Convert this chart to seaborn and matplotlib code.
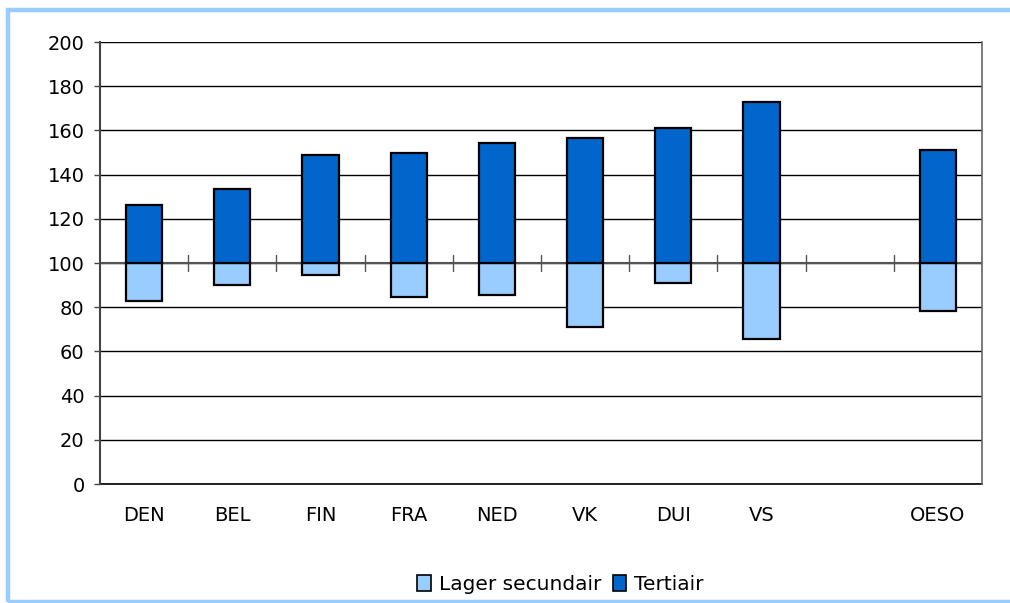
import numpy as np
import pandas as pd
import seaborn as sns
import matplotlib.pyplot as plt
from matplotlib.patches import Patch, Rectangle

# Index values (100 = upper secondary)
countries = ["DEN", "BEL", "FIN", "FRA", "NED", "VK", "DUI", "VS", "OESO"]
lager_secundair = [82.7, 89.9, 94.4, 84.5, 85.4, 70.9, 90.8, 65.6, 78.1]
tertiair = [126.1, 133.3, 148.7, 149.6, 154.2, 156.7, 161.2, 173.0, 151.3]
# empty slot between VS and OESO
order = ["DEN", "BEL", "FIN", "FRA", "NED", "VK", "DUI", "VS", " ", "OESO"]
y_ticks = list(range(0, 201, 20))
base = 100

light_blue = "#99ccff"
dark_blue = "#0066cc"

sns.set_style("white")
plt.rcParams['font.family'] = ['DejaVu Sans']
plt.rcParams['text.color'] = 'black'
plt.rcParams['xtick.color'] = 'black'
plt.rcParams['ytick.color'] = 'black'

df = pd.DataFrame({
    "land": countries * 2,
    "reeks": ["Lager secundair"] * len(countries) + ["Tertiair"] * len(countries),
    "delta": [v - base for v in lager_secundair] + [v - base for v in tertiair],
})

fig = plt.figure(figsize=(10.10, 6.03), dpi=100)
ax = fig.add_axes([0.099, 0.1973, 0.8733, 0.733])

for reeks, kleur in [("Lager secundair", light_blue), ("Tertiair", dark_blue)]:
    sns.barplot(data=df[df["reeks"] == reeks], x="land", y="delta", order=order,
                color=kleur, width=0.41, bottom=base, edgecolor="black",
                linewidth=1.6, saturation=1, ax=ax, zorder=3)

ax.set_ylim(0, 200)
ax.set_xlim(-0.5, len(order) - 0.5)
ax.set_yticks(y_ticks)
ax.yaxis.grid(True, color="black", linewidth=1)
ax.set_axisbelow(True)
ax.set_xlabel("")
ax.set_ylabel("")

# bottom gridline at 0 drawn fully
ax.axhline(0, color="black", linewidth=1.2, clip_on=False, zorder=2)

# category axis crosses at 100
ax.axhline(base, color="#555555", linewidth=1.5, zorder=2)
for xb in np.arange(len(order)) + 0.5:
    ax.plot([xb, xb], [base - 3.5, base + 3.5], color="#555555", linewidth=1, zorder=2)

ax.tick_params(axis="x", length=0, pad=16, labelsize=14, labelcolor="black")
ax.tick_params(axis="y", length=4, width=1, color="#444444", pad=7, labelsize=14,
               labelcolor="black", left=True, direction="out")
ax.spines["top"].set_visible(False)
ax.spines["bottom"].set_visible(False)
ax.spines["left"].set_color("#444444")
ax.spines["left"].set_linewidth(1.5)
ax.spines["right"].set_color("#666666")
ax.spines["right"].set_linewidth(1.2)

handles = [Patch(facecolor=light_blue, edgecolor="black", linewidth=1.2, label="Lager secundair"),
           Patch(facecolor=dark_blue, edgecolor="black", linewidth=1.2, label="Tertiair")]
leg = fig.legend(handles=handles, loc="center", bbox_to_anchor=(0.555, 0.031), ncol=2,
                 frameon=False, fontsize=14.5, handlelength=0.65, handleheight=0.8,
                 handletextpad=0.4, columnspacing=0.6, borderaxespad=0, borderpad=0)
for t in leg.get_texts():
    t.set_color("black")

# light blue frame: left, top and bottom edges (open to the right)
fig.patches.append(Rectangle((0.0084, 0.0017), 1.2, 0.9825, transform=fig.transFigure,
                             fill=False, edgecolor=light_blue, linewidth=3.2))

fig.savefig("out.png", dpi=100)
